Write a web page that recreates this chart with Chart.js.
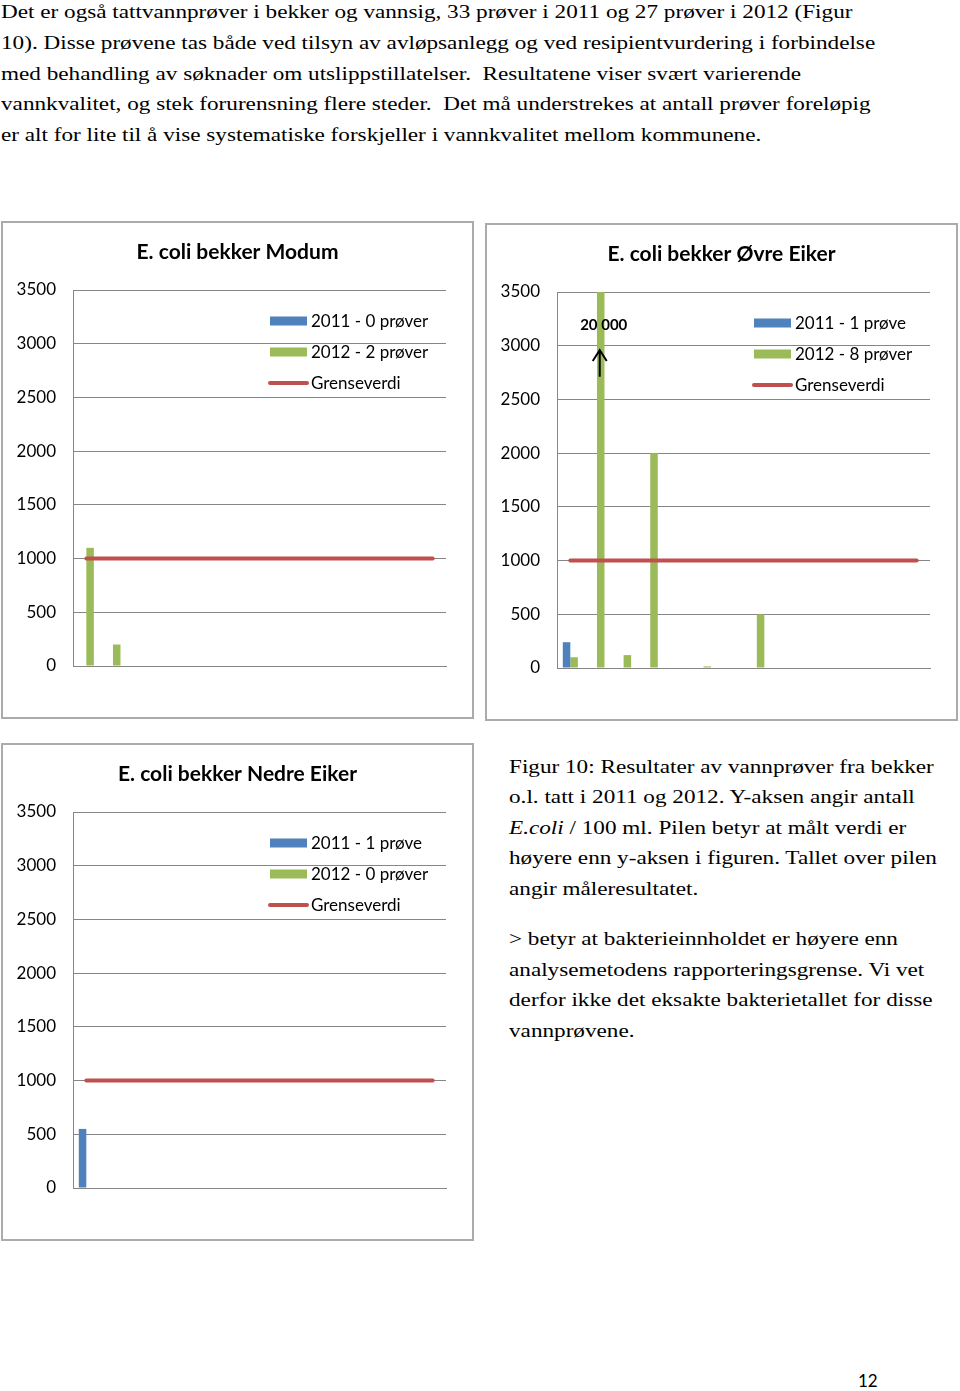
<!DOCTYPE html>
<html>
<head>
<meta charset="utf-8">
<script src="https://cdn.jsdelivr.net/npm/chart.js@4.4.0/dist/chart.umd.min.js"></script>
<style>
  html, body { margin: 0; padding: 0; background: #fff; }
  body { width: 960px; height: 1391px; position: relative; overflow: hidden;
         font-family: "Liberation Serif", "Times New Roman", serif; color: #000; }
  /* the page scan is stretched sideways, so the serif text is too */
  .txt { position: absolute; white-space: pre; font-size: 19px; line-height: 30.75px;
         transform: scaleX(1.22); transform-origin: 0 0; }
  .box { position: absolute; width: 473px; height: 498px; border: 2px solid #ababab; box-sizing: border-box; }
  .box canvas { position: absolute; left: 0; top: 0; }
  .pagenr { position: absolute; left: 858px; top: 1370px; font-family: Lato, sans-serif; font-size: 17px; }
</style>
</head>
<body>

<div class="txt" style="left:1px; top:-3px;">Det er også tattvannprøver i bekker og vannsig, 33 prøver i 2011 og 27 prøver i 2012 (Figur
10). Disse prøvene tas både ved tilsyn av avløpsanlegg og ved resipientvurdering i forbindelse
med behandling av søknader om utslippstillatelser.  Resultatene viser svært varierende
vannkvalitet, og stek forurensning flere steder.  Det må understrekes at antall prøver foreløpig
er alt for lite til å vise systematiske forskjeller i vannkvalitet mellom kommunene.</div>

<div class="box" style="left:1px; top:221px;"><canvas id="modum" width="469" height="494"></canvas></div>
<div class="box" style="left:485px; top:223px;"><canvas id="ovre" width="469" height="494"></canvas></div>
<div class="box" style="left:1px; top:743px;"><canvas id="nedre" width="469" height="494"></canvas></div>

<div class="txt" style="left:509px; top:751.5px; line-height:30.5px;">Figur 10: Resultater av vannprøver fra bekker
o.l. tatt i 2011 og 2012. Y-aksen angir antall
<i>E.coli</i> / 100 ml. Pilen betyr at målt verdi er
høyere enn y-aksen i figuren. Tallet over pilen
angir måleresultatet.</div>
<div class="txt" style="left:509px; top:924px; line-height:30.6px;">&gt; betyr at bakterieinnholdet er høyere enn
analysemetodens rapporteringsgrense. Vi vet
derfor ikke det eksakte bakterietallet for disse
vannprøvene.</div>

<div class="pagenr">12</div>

<script>
// prøvepunkter langs x-aksen (ingen etiketter vises)
const kategorier = ["1", "2", "3", "4", "5", "6", "7", "8", "9", "10", "11", "12", "13", "14"];
const grenseverdi = [1000, 1000, 1000, 1000, 1000, 1000, 1000, 1000, 1000, 1000, 1000, 1000, 1000, 1000];

// Modum
const modum2011 = [];
const modum2012 = [1100, 200];
// Øvre Eiker (andre prøve i 2012 = 20 000, over aksen)
const ovre2011 = [240];
const ovre2012 = [100, 20000, 120, 2000, 5, 15, 0, 500];
// Nedre Eiker
const nedre2011 = [550];
const nedre2012 = [];

const modumLegend = ["2011 - 0 prøver", "2012 - 2 prøver", "Grenseverdi"];
const ovreLegend = ["2011 - 1 prøve", "2012 - 8 prøver", "Grenseverdi"];
const nedreLegend = ["2011 - 1 prøve", "2012 - 0 prøver", "Grenseverdi"];

const BLUE = "#4f81bd";
const GREEN = "#9bbb59";
const RED = "#c0504d";
const GRID = "#868686";

// title centred over the whole box (the built-in one ignores the right padding)
const boxTitle = {
  id: "boxTitle",
  afterDraw(chart, args, opts) {
    const ctx = chart.ctx;
    ctx.save();
    ctx.font = "bold 21px Lato";
    ctx.fillStyle = "#000";
    ctx.textAlign = "center";
    ctx.textBaseline = "middle";
    ctx.fillText(opts.text, chart.width / 2, 29);
    ctx.restore();
  }
};

// legend drawn inside the plot area, top right
const innerLegend = {
  id: "innerLegend",
  afterDraw(chart) {
    const { ctx, chartArea } = chart;
    const x0 = chartArea.right - 176;
    let y = chartArea.top + 31;
    ctx.save();
    ctx.font = "17px Lato";
    ctx.textBaseline = "middle";
    chart.data.datasets.forEach(ds => {
      if (ds.type === "line") {
        ctx.strokeStyle = ds.borderColor;
        ctx.lineWidth = 4;
        ctx.lineCap = "round";
        ctx.beginPath();
        ctx.moveTo(x0, y);
        ctx.lineTo(x0 + 37, y);
        ctx.stroke();
      } else {
        ctx.fillStyle = ds.backgroundColor;
        ctx.fillRect(x0, y - 4.5, 37, 9);
      }
      ctx.fillStyle = "#000";
      ctx.fillText(ds.label, x0 + 41, y + 1);
      y += 31;
    });
    ctx.restore();
  }
};

// arrow + number for the value that goes beyond the axis
const arrowNote = {
  id: "arrowNote",
  afterDatasetsDraw(chart, args, opts) {
    if (!opts || !opts.label) return;
    const bar = chart.getDatasetMeta(opts.datasetIndex).data[opts.index];
    const y = chart.scales.y;
    const x = bar.x - 1;
    const yTip = y.getPixelForValue(opts.to);
    const yEnd = y.getPixelForValue(opts.from);
    const ctx = chart.ctx;
    ctx.save();
    ctx.strokeStyle = "#000";
    ctx.lineWidth = 2;
    ctx.beginPath();
    ctx.moveTo(x, yEnd);
    ctx.lineTo(x, yTip);
    ctx.moveTo(x - 7, yTip + 11);
    ctx.lineTo(x, yTip);
    ctx.lineTo(x + 7, yTip + 11);
    ctx.stroke();
    ctx.font = "bold 15px Lato";
    ctx.fillStyle = "#000";
    ctx.textAlign = "center";
    ctx.textBaseline = "middle";
    ctx.fillText(opts.label, bar.x + 3, y.getPixelForValue(opts.labelAt));
    ctx.restore();
  }
};

function makeChart(id, title, v2011, v2012, labels, note) {
  const ctx = document.getElementById(id).getContext("2d");
  return new Chart(ctx, {
    type: "bar",
    data: {
      labels: kategorier,
      datasets: [
        {
          label: labels[0],
          data: v2011,
          backgroundColor: BLUE,
          categoryPercentage: 0.565,
          barPercentage: 1,
          clip: 0,
          order: 1
        },
        {
          label: labels[1],
          data: v2012,
          backgroundColor: GREEN,
          categoryPercentage: 0.565,
          barPercentage: 1,
          clip: 0,
          order: 1
        },
        {
          type: "line",
          label: labels[2],
          data: grenseverdi,
          borderColor: RED,
          borderWidth: 4,
          borderCapStyle: "round",
          pointRadius: 0,
          fill: false,
          order: 0
        }
      ]
    },
    options: {
      responsive: false,
      animation: false,
      layout: { padding: { left: 0, right: 26, top: 67, bottom: 51 } },
      plugins: {
        legend: { display: false },
        tooltip: { enabled: false },
        title: { display: false },
        boxTitle: { text: title },
        arrowNote: note || {}
      },
      scales: {
        x: {
          grid: { display: false, drawTicks: false },
          border: { color: GRID, width: 1 },
          ticks: { display: false }
        },
        y: {
          min: 0,
          max: 3500,
          afterFit: s => { s.width = 70; },
          grid: { color: GRID, lineWidth: 1, drawTicks: false },
          border: { color: GRID, width: 1 },
          ticks: {
            stepSize: 500,
            padding: 17,
            color: "#000",
            font: { family: "Lato", size: 17 },
            callback: v => String(v)
          }
        }
      }
    },
    plugins: [boxTitle, innerLegend, arrowNote]
  });
}

makeChart("modum", "E. coli bekker Modum", modum2011, modum2012, modumLegend);
makeChart("ovre", "E. coli bekker Øvre Eiker", ovre2011, ovre2012, ovreLegend,
  { datasetIndex: 1, index: 1, label: "20 000", from: 2710, to: 2960, labelAt: 3190 });
makeChart("nedre", "E. coli bekker Nedre Eiker", nedre2011, nedre2012, nedreLegend);
</script>
</body>
</html>
